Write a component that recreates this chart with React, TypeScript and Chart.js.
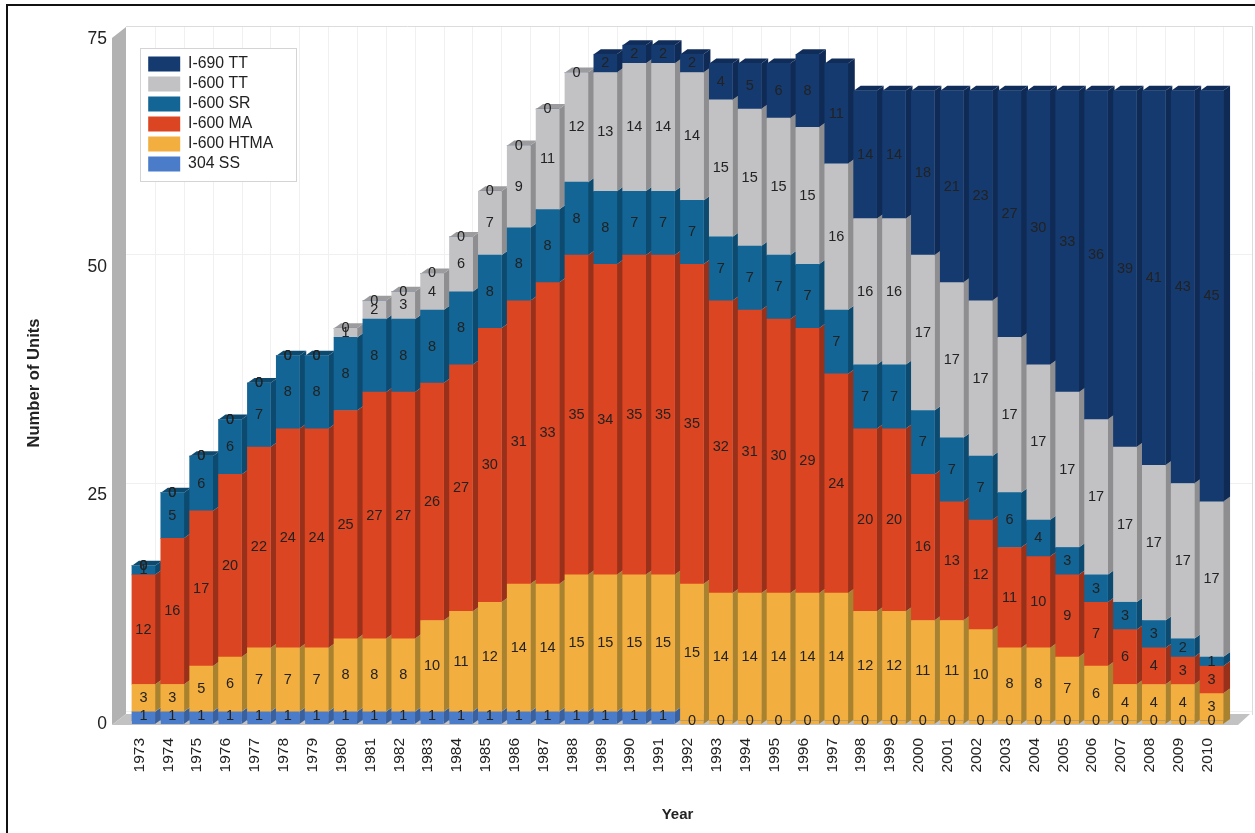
import React, { useEffect, useRef } from "react";
import { Chart, registerables } from "chart.js";

Chart.register(...registerables);

const years = ["1973","1974","1975","1976","1977","1978","1979","1980","1981","1982","1983","1984","1985","1986","1987","1988","1989","1990","1991","1992","1993","1994","1995","1996","1997","1998","1999","2000","2001","2002","2003","2004","2005","2006","2007","2008","2009","2010"];
const ss304 = [1,1,1,1,1,1,1,1,1,1,1,1,1,1,1,1,1,1,1,0,0,0,0,0,0,0,0,0,0,0,0,0,0,0,0,0,0,0];
const htma600 = [3,3,5,6,7,7,7,8,8,8,10,11,12,14,14,15,15,15,15,15,14,14,14,14,14,12,12,11,11,10,8,8,7,6,4,4,4,3];
const ma600 = [12,16,17,20,22,24,24,25,27,27,26,27,30,31,33,35,34,35,35,35,32,31,30,29,24,20,20,16,13,12,11,10,9,7,6,4,3,3];
const sr600 = [1,5,6,6,7,8,8,8,8,8,8,8,8,8,8,8,8,7,7,7,7,7,7,7,7,7,7,7,7,7,6,4,3,3,3,3,2,1];
const tt600 = [0,0,0,0,0,0,0,1,2,3,4,6,7,9,11,12,13,14,14,14,15,15,15,15,16,16,16,17,17,17,17,17,17,17,17,17,17,17];
const tt690 = [0,0,0,0,0,0,0,0,0,0,0,0,0,0,0,0,2,2,2,2,4,5,6,8,11,14,14,18,21,23,27,30,33,36,39,41,43,45];
const yTicks = [0, 25, 50, 75];

const FONT = "'Liberation Sans', Arial, sans-serif";
const sideColors = ["#3a619e", "#a98230", "#99301a", "#0d4a70", "#8e8e90", "#0f2a54"];
const topColors = ["#3a619e", "#a98230", "#99301a", "#0d4a70", "#9c9c9e", "#102d5a"];
const DX = 7;
const DY = 5;
const FOOT = 3;

const depthPlugin = {
  id: "depth",
  afterLayout(chart: any) {
    const l = chart.legend;
    if (l) {
      const w = l.width, h = l.height;
      l.left = 144; l.top = 52; l.right = 144 + w; l.bottom = 52 + h;
    }
    const s = chart.scales.y;
    if (s && !s.__shifted) {
      const orig = s.drawTitle.bind(s);
      s.drawTitle = (...args: any[]) => {
        chart.ctx.save();
        chart.ctx.translate(0, 4.5);
        orig(...args);
        chart.ctx.restore();
      };
      s.__shifted = true;
    }
  },
  beforeDraw(chart: any) {
    const { ctx, scales } = chart;
    const { x, y } = scales;
    const WX = 14, WY = 10;
    const left = 112, bx = left + WX, rx = 1252;
    const y0 = y.bottom, yMax = y.top;
    ctx.save();
    // outer page frame
    ctx.fillStyle = "#111";
    ctx.fillRect(6, 4, 1249, 2);
    ctx.fillRect(6, 4, 2, 829);
    // back wall grid
    ctx.strokeStyle = "#f0f0f0";
    ctx.lineWidth = 1;
    years.forEach((_, i) => {
      const gx = Math.round(x.getPixelForValue(i) + 11.5) + 0.5;
      ctx.beginPath(); ctx.moveTo(gx, yMax - WY + 1); ctx.lineTo(gx, y0 - WY); ctx.stroke();
    });
    yTicks.forEach((t) => {
      const gy = Math.round(y.getPixelForValue(t) - WY) + 0.5;
      ctx.strokeStyle = t === 75 ? "#dcdcdc" : "#f0f0f0";
      ctx.beginPath(); ctx.moveTo(bx, gy); ctx.lineTo(rx, gy); ctx.stroke();
    });
    ctx.strokeStyle = "#dcdcdc";
    ctx.beginPath(); ctx.moveTo(rx + 0.5, yMax - WY); ctx.lineTo(rx + 0.5, y0 - WY + 4); ctx.stroke();
    // left wall
    ctx.fillStyle = "#b2b2b2";
    ctx.beginPath();
    ctx.moveTo(left, yMax + 2); ctx.lineTo(bx, yMax - WY + 1); ctx.lineTo(bx, y0 - WY + 3); ctx.lineTo(left, y0 + 4);
    ctx.closePath(); ctx.fill();
    // floor
    ctx.fillStyle = "#c2c2c2";
    ctx.beginPath();
    ctx.moveTo(left, y0 + 4); ctx.lineTo(bx, y0 - WY + 3); ctx.lineTo(1250, y0 - WY + 3); ctx.lineTo(1238, y0 + 4);
    ctx.closePath(); ctx.fill();
    // legend frame
    ctx.fillStyle = "#fff";
    ctx.strokeStyle = "#d4d4d4";
    ctx.lineWidth = 1;
    ctx.fillRect(140.5, 48.5, 156, 133);
    ctx.strokeRect(140.5, 48.5, 156, 133);
    ctx.restore();
  },
  beforeDatasetsDraw(chart: any) {
    const { ctx, data } = chart;
    const y0 = chart.scales.y.bottom;
    ctx.save();
    years.forEach((_, i) => {
      let lastTop: any = null;
      let lastIdx = -1;
      data.datasets.forEach((ds: any, d: number) => {
        const el = chart.getDatasetMeta(d).data[i];
        const h = ds.data[i];
        if (!h) return;
        const r = el.x + el.width / 2;
        const yt = el.y;
        const foot = Math.abs(el.base - y0) < 0.5 ? FOOT : 0;
        const yb = el.base + foot;
        ctx.fillStyle = sideColors[d];
        ctx.beginPath();
        ctx.moveTo(r, yt); ctx.lineTo(r + DX, yt - DY); ctx.lineTo(r + DX, yb - DY); ctx.lineTo(r, yb);
        ctx.closePath(); ctx.fill();
        if (foot) {
          ctx.fillStyle = ds.backgroundColor;
          ctx.fillRect(el.x - el.width / 2, el.base - 0.5, el.width, foot + 0.5);
        }
        lastTop = el; lastIdx = d;
      });
      if (lastTop) {
        const l = lastTop.x - lastTop.width / 2;
        const r = lastTop.x + lastTop.width / 2;
        const yt = lastTop.y;
        ctx.fillStyle = topColors[lastIdx];
        ctx.beginPath();
        ctx.moveTo(l, yt); ctx.lineTo(l + DX, yt - DY); ctx.lineTo(r + DX, yt - DY); ctx.lineTo(r, yt);
        ctx.closePath(); ctx.fill();
      }
    });
    ctx.restore();
  },
  afterDatasetsDraw(chart: any) {
    const { ctx, data } = chart;
    ctx.save();
    ctx.fillStyle = "#222";
    ctx.font = `14.5px ${FONT}`;
    ctx.textAlign = "center";
    ctx.textBaseline = "middle";
    data.datasets.forEach((ds: any, d: number) => {
      chart.getDatasetMeta(d).data.forEach((el: any, i: number) => {
        ctx.fillText(String(ds.data[i]), el.x, (el.y + el.base) / 2);
      });
    });
    ctx.restore();
  },
};

export default function App() {
  const ref = useRef<HTMLCanvasElement>(null);
  useEffect(() => {
    if (!ref.current) return;
    const chart = new Chart(ref.current, {
      type: "bar",
      data: {
        labels: years,
        datasets: [
          { label: "304 SS", data: ss304, backgroundColor: "#4a7cc9" },
          { label: "I-600 HTMA", data: htma600, backgroundColor: "#f2ae3e" },
          { label: "I-600 MA", data: ma600, backgroundColor: "#dc4522" },
          { label: "I-600 SR", data: sr600, backgroundColor: "#126595" },
          { label: "I-600 TT", data: tt600, backgroundColor: "#c2c2c4" },
          { label: "I-690 TT", data: tt690, backgroundColor: "#153a70" },
        ],
      },
      options: {
        responsive: false,
        animation: false,
        devicePixelRatio: 1,
        layout: { autoPadding: false, padding: { top: 36, right: 29, left: 0, bottom: 0 } },
        datasets: { bar: { barThickness: 23, borderWidth: 0 } },
        scales: {
          x: {
            stacked: true,
            grid: { display: false, drawTicks: false },
            border: { display: false },
            afterFit: (s: any) => { s.height = 112; },
            ticks: {
              autoSkip: false, minRotation: 90, maxRotation: 90, padding: 17, labelOffset: -4,
              color: "#222", font: { size: 15.5, family: FONT },
            },
            title: {
              display: true, text: "Year", color: "#222",
              font: { size: 15, weight: "bold", family: FONT }, padding: { top: 0, bottom: 9 },
            },
          },
          y: {
            stacked: true, min: 0, max: 75,
            grid: { display: false, drawTicks: false },
            border: { display: false },
            afterFit: (s: any) => { s.width = 129; },
            ticks: {
              stepSize: 25, padding: 22, labelOffset: 3, color: "#222", font: { size: 17.5, family: FONT },
            },
            title: {
              display: true, text: "Number of Units", color: "#222",
              font: { size: 16.6, weight: "bold", family: FONT }, padding: { top: 24, bottom: 0 },
            },
          },
        },
        plugins: {
          tooltip: { enabled: false },
          legend: {
            position: "chartArea", align: "start", reverse: true,
            labels: {
              boxWidth: 32, boxHeight: 15, padding: 4.2, color: "#222",
              font: { size: 15.8, family: FONT },
            },
          },
        },
      },
      plugins: [depthPlugin],
    } as any);
    return () => chart.destroy();
  }, []);
  return (
    <canvas
      ref={ref}
      width={1255}
      height={833}
      style={{ position: "fixed", left: 0, top: 0, width: 1255, height: 833, display: "block", background: "#fff", filter: "blur(0.5px)" }}
    />
  );
}
